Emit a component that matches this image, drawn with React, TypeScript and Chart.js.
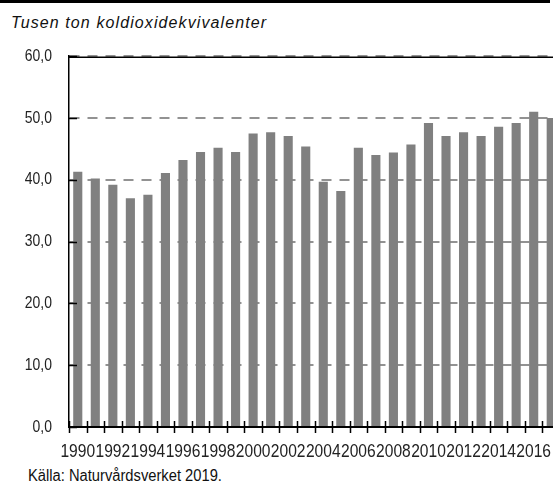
import React, { useEffect, useRef } from "react";
import { Chart, registerables } from "chart.js";

Chart.register(...registerables);

const years = [
  "1990", "1991", "1992", "1993", "1994", "1995", "1996", "1997", "1998", "1999",
  "2000", "2001", "2002", "2003", "2004", "2005", "2006", "2007", "2008", "2009",
  "2010", "2011", "2012", "2013", "2014", "2015", "2016", "2017",
];
const emissions = [
  41.3, 40.2, 39.2, 37.0, 37.6, 41.1, 43.2, 44.5, 45.2, 44.5,
  47.5, 47.7, 47.1, 45.4, 39.7, 38.2, 45.2, 44.0, 44.4, 45.7,
  49.2, 47.1, 47.7, 47.1, 48.6, 49.2, 51.0, 50.0,
];
const yTicks = [0, 10, 20, 30, 40, 50, 60];
const subtitle = "Tusen ton koldioxidekvivalenter";
const source = "Källa: Naturvårdsverket 2019.";

const SANS = '"Liberation Sans", Arial, sans-serif';
const NARROW_FACTOR = 0.82;

// Condense canvas text (narrow face look) by passing a maxWidth to fillText
const narrowPlugin = {
  id: "narrowText",
  beforeDraw(chart: any) {
    const ctx = chart.ctx;
    const orig = CanvasRenderingContext2D.prototype.fillText;
    ctx.fillText = function (text: string, x: number, y: number, maxWidth?: number) {
      const w = this.measureText(String(text)).width * NARROW_FACTOR;
      const mw = typeof maxWidth === "number" && isFinite(maxWidth) && maxWidth > 0 ? Math.min(maxWidth, w) : w;
      if (mw > 0) return orig.call(this, text, x, y, mw);
      return orig.call(this, text, x, y);
    };
  },
  afterDraw(chart: any) {
    delete chart.ctx.fillText;
  },
};

const tickPlugin = {
  id: "crossTicks",
  afterDraw(chart: any) {
    const { ctx, chartArea, scales } = chart;
    const x = scales.x;
    const y = scales.y;
    ctx.save();
    ctx.strokeStyle = "#000";
    ctx.lineWidth = 1.5;
    ctx.beginPath();
    for (let k = 0; k <= years.length; k++) {
      const px = Math.round(x.getPixelForValue(k - 0.5)) + 0.5;
      ctx.moveTo(px, chartArea.bottom - 6);
      ctx.lineTo(px, chartArea.bottom + 6);
    }
    yTicks.forEach((v) => {
      const py = Math.round(y.getPixelForValue(v)) + 0.5;
      ctx.moveTo(chartArea.left, py);
      ctx.lineTo(chartArea.left + 8, py);
    });
    ctx.stroke();
    ctx.beginPath();
    ctx.lineWidth = 1.5;
    ctx.moveTo(chartArea.left, chartArea.top + 1);
    ctx.lineTo(chartArea.right, chartArea.top + 1);
    ctx.stroke();
    ctx.restore();
  },
};

function BarChart() {
  const ref = useRef<HTMLCanvasElement | null>(null);
  useEffect(() => {
    if (!ref.current) return;
    const chart = new Chart(ref.current, {
      type: "bar",
      data: {
        labels: years,
        datasets: [
          {
            data: emissions,
            backgroundColor: "#808080",
            barPercentage: 0.52,
            categoryPercentage: 1,
          },
        ],
      },
      options: {
        animation: false,
        responsive: false,
        maintainAspectRatio: false,
        layout: { padding: { top: 5, right: 20, left: 0, bottom: 0 } },
        plugins: { legend: { display: false }, tooltip: { enabled: false } },
        scales: {
          x: {
            offset: true,
            grid: { display: false, offset: true },
            border: { display: true, color: "#000", width: 2 },
            ticks: {
              autoSkip: false,
              maxRotation: 0,
              minRotation: 0,
              padding: 5,
              color: "#222",
              font: { family: SANS, size: 19 },
              callback: (_v: any, i: number) => (i % 2 === 0 ? years[i] : ""),
            },
            afterFit: (s: any) => {
              s.height = 38;
            },
          },
          y: {
            min: 0,
            max: 60,
            afterBuildTicks: (s: any) => {
              s.ticks = yTicks.map((v) => ({ value: v }));
            },
            ticks: {
              padding: 17,
              color: "#222",
              font: { family: SANS, size: 17 },
              callback: (v: any) => Number(v).toFixed(1).replace(".", ","),
            },
            grid: {
              color: (c: any) => (c.tick && c.tick.value === 0 ? "rgba(0,0,0,0)" : "#929292"),
              lineWidth: 2,
              drawTicks: false,
              tickLength: 0,
            },
            border: { display: true, color: "#000", width: 1.5, dash: [10, 8] },
            afterFit: (s: any) => {
              s.width = 69;
            },
          },
        },
      },
      plugins: [narrowPlugin, tickPlugin],
    } as any);
    return () => chart.destroy();
  }, []);
  return (
    <canvas
      ref={ref}
      width={580}
      height={436}
      style={{ position: "absolute", left: 0, top: 29, width: 580, height: 436 }}
    />
  );
}

export default function App() {
  return (
    <div
      style={{
        position: "fixed",
        left: 0,
        top: 0,
        width: 553,
        height: 484,
        overflow: "hidden",
        background: "#fff",
      }}
    >
      <div style={{ position: "absolute", left: 0, top: 0, width: 550, height: 3, background: "#000" }} />
      <div
        style={{
          position: "absolute",
          left: 11,
          top: 14,
          fontFamily: SANS,
          fontStyle: "italic",
          fontSize: 16,
          letterSpacing: "1.1px",
          lineHeight: "18px",
          color: "#111",
          whiteSpace: "nowrap",
        }}
      >
        {subtitle}
      </div>
      <BarChart />
      <div
        style={{
          position: "absolute",
          left: 28,
          top: 467,
          fontFamily: SANS,
          fontSize: 16,
          lineHeight: "18px",
          color: "#111",
          whiteSpace: "nowrap",
          transform: "scaleX(0.92)",
          transformOrigin: "left top",
        }}
      >
        {source}
      </div>
    </div>
  );
}
